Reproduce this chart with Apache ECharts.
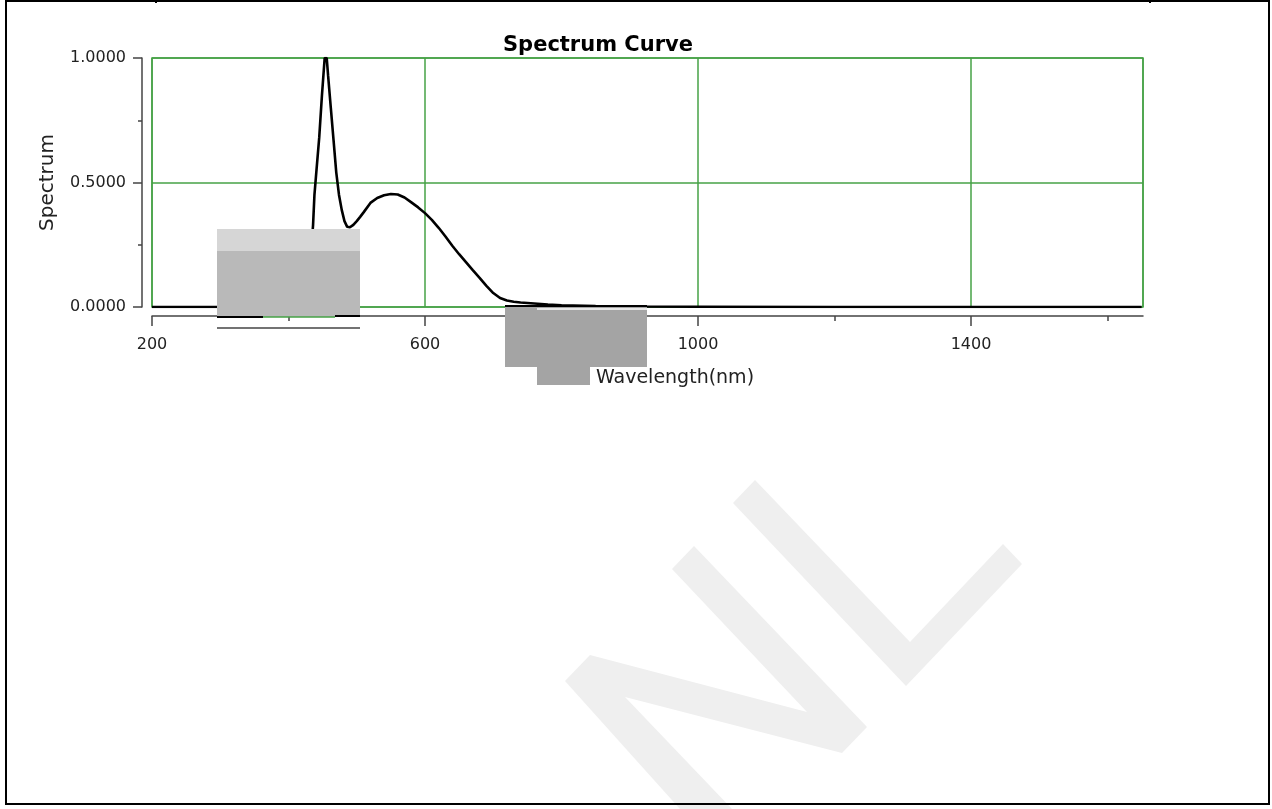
<!DOCTYPE html>
<html>
<head>
<meta charset="utf-8">
<script src="https://cdn.jsdelivr.net/npm/echarts@6/dist/echarts.min.js"></script>
<style>
html,body{margin:0;padding:0;background:#fff;overflow:hidden;}
#chart{position:absolute;left:0;top:0;width:1272px;height:809px;}
#frame{position:absolute;left:5px;top:0;width:1265px;height:805px;border:2px solid #000;box-sizing:border-box;pointer-events:none;}
.cell{position:absolute;top:0;width:2px;height:3px;background:#000;}
</style>
</head>
<body>
<div id="chart"></div>
<div id="frame"></div>
<div class="cell" style="left:155px"></div>
<div class="cell" style="left:1149px"></div>
<script>
// ---- data ----
const wavelengths = [200, 300, 380, 400, 410, 420, 424, 428, 432, 436, 438, 441, 445, 449, 453, 456, 458, 462, 466, 470, 474, 478, 482, 486, 490, 495, 500, 505, 510, 520, 530, 540, 550, 560, 570, 580, 590, 600, 610, 620, 630, 640, 650, 660, 670, 680, 690, 700, 710, 720, 730, 740, 760, 780, 800, 850, 900, 1000, 1200, 1400, 1650];
const spectrum    = [0, 0, 0, 0.002, 0.01, 0.035, 0.06, 0.1, 0.18, 0.33, 0.45, 0.55, 0.68, 0.85, 1.0, 1.0, 0.93, 0.8, 0.67, 0.54, 0.45, 0.39, 0.345, 0.322, 0.32, 0.33, 0.345, 0.362, 0.38, 0.418, 0.438, 0.449, 0.454, 0.452, 0.44, 0.42, 0.4, 0.377, 0.35, 0.318, 0.283, 0.246, 0.212, 0.18, 0.148, 0.117, 0.085, 0.056, 0.036, 0.026, 0.021, 0.018, 0.014, 0.01, 0.007, 0.004, 0.002, 0.001, 0, 0, 0];
const xLabelTicks = [200, 600, 1000, 1400];
const xMinorTicks = [400, 800, 1200, 1600];
const yLabelTicks = [0, 0.5, 1];
const xMin = 200, xMax = 1652;

const seriesData = wavelengths.map((w, i) => [w, spectrum[i]]);

const GREEN = '#46a246';
const AXIS = '#444';
const FONT = 'DejaVu Sans';

const chart = echarts.init(document.getElementById('chart'), null, {renderer: 'canvas'});
chart.setOption({
  backgroundColor: '#fff',
  animation: false,
  title: {
    text: 'Spectrum Curve',
    left: 593, top: 30, textAlign: 'center',
    textStyle: {fontFamily: FONT, fontWeight: 'bold', fontSize: 21, color: '#000'}
  },
  grid: {left: 152, top: 58, width: 991, height: 249, show: true, borderColor: GREEN, borderWidth: 1.5, outerBoundsMode: 'none'},
  xAxis: [
    {
      type: 'value', min: xMin, max: xMax, interval: 400, position: 'bottom',
      axisLine: {show: false}, axisTick: {show: false}, axisLabel: {show: false},
      splitLine: {show: true, lineStyle: {color: GREEN, width: 1.5}}
    },
    {
      type: 'value', min: xMin, max: xMax, position: 'bottom', offset: 9,
      axisLine: {show: true, onZero: false, lineStyle: {color: AXIS, width: 1.5}},
      axisTick: {show: true, length: 10, customValues: xLabelTicks, lineStyle: {color: AXIS, width: 1.5}},
      axisLabel: {show: true, customValues: xLabelTicks, formatter: v => String(v), margin: 21, fontFamily: FONT, fontSize: 16, color: '#222'},
      splitLine: {show: false},
      name: 'Wavelength(nm)', nameLocation: 'middle', nameGap: 53,
      nameTextStyle: {fontFamily: FONT, fontSize: 19, color: '#222', padding: [0, 0, 0, 55]}
    },
    {
      type: 'value', min: xMin, max: xMax, position: 'bottom', offset: 9,
      axisLine: {show: false, onZero: false},
      axisTick: {show: true, length: 5, customValues: xMinorTicks, lineStyle: {color: AXIS, width: 1.5}},
      axisLabel: {show: false},
      splitLine: {show: false}
    }
  ],
  yAxis: {
    type: 'value', min: 0, max: 1, interval: 0.5, offset: 10,
    axisLine: {show: true, onZero: false, lineStyle: {color: AXIS, width: 1.5}},
    axisTick: {show: true, length: 9, customValues: yLabelTicks, lineStyle: {color: AXIS, width: 1.5}},
    minorTick: {show: true, splitNumber: 2, length: 4, lineStyle: {color: AXIS, width: 1.5}},
    axisLabel: {customValues: yLabelTicks, formatter: v => Number(v).toFixed(4), margin: 16, fontFamily: FONT, fontSize: 16, color: '#222'},
    splitLine: {show: true, lineStyle: {color: GREEN, width: 1.5}},
    name: 'Spectrum', nameLocation: 'middle', nameGap: 84,
    nameTextStyle: {fontFamily: FONT, fontSize: 20, color: '#222'}
  },
  series: [{
    type: 'line', xAxisIndex: 0, yAxisIndex: 0,
    data: seriesData, showSymbol: false, smooth: false,
    lineStyle: {color: '#000', width: 2.6}, z: 5
  }],
  graphic: [
    // faint watermark
    {type: 'polygon', z: -10, silent: true,
     shape: {points: [[590,655],[807,712],[672,569],[694,546],[867,727],[842,753],[625,697],[732,809],[680,809],[565,681]]},
     style: {fill: '#efefef'}},
    {type: 'polygon', z: -10, silent: true,
     shape: {points: [[755,480],[910,642],[1003,544],[1022,564],[906,686],[733,503]]},
     style: {fill: '#efefef'}},
    // image artefact patches seen in the reference
    {type: 'rect', z: 100, silent: true, shape: {x: 217, y: 229, width: 143, height: 22}, style: {fill: '#d6d6d6'}},
    {type: 'rect', z: 100, silent: true, shape: {x: 217, y: 251, width: 143, height: 66}, style: {fill: '#b9b9b9'}},
    {type: 'line', z: 101, silent: true, shape: {x1: 217, y1: 317, x2: 263, y2: 317}, style: {stroke: '#000', lineWidth: 2}},
    {type: 'line', z: 101, silent: true, shape: {x1: 263, y1: 317, x2: 335, y2: 317}, style: {stroke: GREEN, lineWidth: 1.5}},
    {type: 'line', z: 101, silent: true, shape: {x1: 335, y1: 316, x2: 360, y2: 316}, style: {stroke: '#000', lineWidth: 2}},
    {type: 'line', z: 101, silent: true, shape: {x1: 217, y1: 328, x2: 360, y2: 328}, style: {stroke: '#444', lineWidth: 1.5}},
    {type: 'rect', z: 100, silent: true, shape: {x: 505, y: 305, width: 142, height: 62}, style: {fill: '#a4a4a4'}},
    {type: 'rect', z: 100, silent: true, shape: {x: 537, y: 366, width: 53, height: 19}, style: {fill: '#a4a4a4'}},
    {type: 'line', z: 101, silent: true, shape: {x1: 505, y1: 306, x2: 647, y2: 306}, style: {stroke: '#000', lineWidth: 2}},
    {type: 'line', z: 101, silent: true, shape: {x1: 537, y1: 309, x2: 647, y2: 309}, style: {stroke: '#fff', lineWidth: 1.5}}
  ]
});
</script>
</body>
</html>
